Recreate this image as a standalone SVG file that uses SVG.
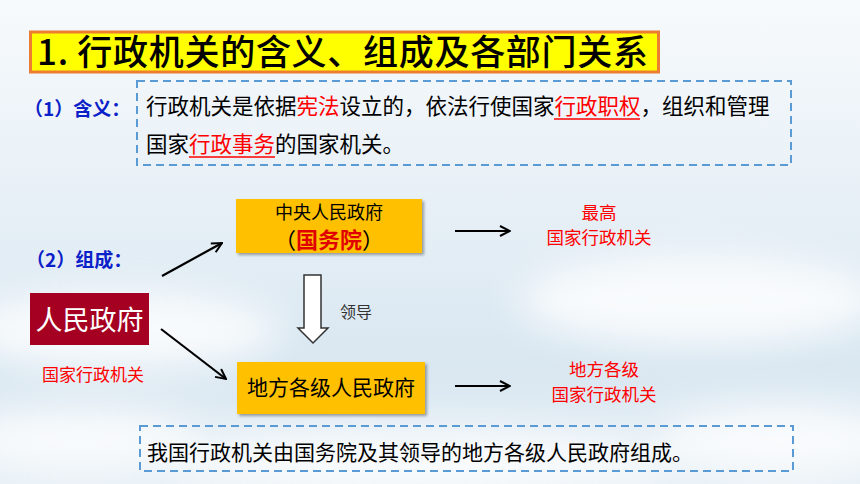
<svg xmlns="http://www.w3.org/2000/svg" width="860" height="484" viewBox="0 0 860 484">
<defs>
<linearGradient id="sky" x1="0" y1="0" x2="0" y2="1">
<stop offset="0" stop-color="#f7fafc"/>
<stop offset="0.45" stop-color="#e6eff6"/>
<stop offset="0.75" stop-color="#d9e7f1"/>
<stop offset="1" stop-color="#e8f0f6"/>
</linearGradient>
<filter id="blur" x="-50%" y="-50%" width="200%" height="200%"><feGaussianBlur stdDeviation="18"/></filter>
<filter id="shadow" x="-10%" y="-10%" width="130%" height="140%"><feDropShadow dx="2" dy="2" stdDeviation="1.5" flood-color="#000" flood-opacity="0.35"/></filter>
<marker id="arr" viewBox="0 0 12 12" refX="11" refY="6" markerWidth="12" markerHeight="12" markerUnits="userSpaceOnUse" orient="auto">
<polyline points="1,1 11,6 1,11" fill="none" stroke="#000" stroke-width="2"/>
</marker>
<style>
.cjk{font-family:"Noto Sans CJK SC","Noto Sans",sans-serif;}
.dash{fill:none;stroke:#5b9bd5;stroke-width:2;stroke-dasharray:8,5;}
.box{fill:#ffc000;filter:url(#shadow);}
.con{stroke:#000;stroke-width:2.2;fill:none;marker-end:url(#arr);}
.red{fill:#ff0000;}
.blue{fill:#0a20c8;}
</style>
</defs>
<rect x="0" y="0" width="860" height="484" fill="url(#sky)"/>
<g filter="url(#blur)" fill="#ffffff" opacity="0.8">
<ellipse cx="120" cy="330" rx="160" ry="40"/>
<ellipse cx="700" cy="300" rx="180" ry="45"/>
<ellipse cx="420" cy="460" rx="260" ry="30"/>
<ellipse cx="780" cy="440" rx="120" ry="35"/>
<ellipse cx="80" cy="440" rx="120" ry="30"/>
</g>

<g id="title">
<rect x="30.5" y="32" width="628" height="40" fill="#ffff00" stroke="#ed7d31" stroke-width="3"/>
<text x="37" y="65" class="cjk" font-size="35" font-weight="500" fill="#000" textLength="611" lengthAdjust="spacing">1. 行政机关的含义、组成及各部门关系</text>
</g>

<g id="meaning">
<text x="24" y="116" class="cjk blue" font-size="19" font-weight="bold">（1）含义：</text>
<rect x="137" y="81" width="654" height="84" class="dash"/>
<text x="146" y="114" class="cjk" font-size="21.5" fill="#000">行政机关是依据<tspan class="red">宪法</tspan>设立的，依法行使国家<tspan class="red">行政职权</tspan>，组织和管理</text>
<text x="146" y="152" class="cjk" font-size="21.5" fill="#000">国家<tspan class="red">行政事务</tspan>的国家机关。</text>
<line x1="554" y1="119" x2="640" y2="119" stroke="#ff0000" stroke-width="1.5"/>
<line x1="189" y1="157" x2="275" y2="157" stroke="#ff0000" stroke-width="1.5"/>
</g>

<g id="composition-label">
<text x="26" y="267" class="cjk blue" font-size="19" font-weight="bold">（2）组成：</text>
</g>

<g id="node-renmin">
<rect x="30" y="293" width="119" height="52" fill="#a50021"/>
<text x="89.5" y="330" class="cjk" font-size="27" fill="#ffffff" text-anchor="middle">人民政府</text>
<text x="93" y="381" class="cjk red" font-size="17" text-anchor="middle">国家行政机关</text>
</g>

<g id="node-central">
<rect x="236" y="199" width="186" height="54" class="box"/>
<text x="329" y="219" class="cjk" font-size="18" fill="#000" text-anchor="middle">中央人民政府</text>
<text x="329" y="248" class="cjk" font-size="22" fill="#000" text-anchor="middle">（<tspan fill="#e00000" font-weight="bold">国务院</tspan>）</text>
</g>

<g id="node-local">
<rect x="237" y="362" width="188" height="52" class="box"/>
<text x="331" y="395" class="cjk" font-size="21" fill="#000" text-anchor="middle">地方各级人民政府</text>
</g>

<g id="label-central">
<text x="599" y="219" class="cjk red" font-size="17.5" text-anchor="middle">最高</text>
<text x="599" y="244" class="cjk red" font-size="17.5" text-anchor="middle">国家行政机关</text>
</g>

<g id="label-local">
<text x="604" y="376" class="cjk red" font-size="17.5" text-anchor="middle">地方各级</text>
<text x="604" y="401" class="cjk red" font-size="17.5" text-anchor="middle">国家行政机关</text>
</g>

<g id="connectors">
<line x1="162" y1="276" x2="222" y2="243" class="con"/>
<line x1="161" y1="329" x2="226" y2="379" class="con"/>
<line x1="455" y1="231" x2="510" y2="231" class="con"/>
<line x1="455" y1="386" x2="510" y2="386" class="con"/>
<polygon points="304,275 321,275 321,328 328,328 313,343 298,328 304,328" fill="#ffffff" stroke="#333" stroke-width="1.5"/>
<text x="340" y="318" class="cjk" font-size="16" fill="#333">领导</text>
</g>

<g id="summary">
<rect x="140" y="426" width="653" height="45" class="dash"/>
<text x="147" y="460" class="cjk" font-size="21" fill="#000">我国行政机关由国务院及其领导的地方各级人民政府组成。</text>
</g>
</svg>
